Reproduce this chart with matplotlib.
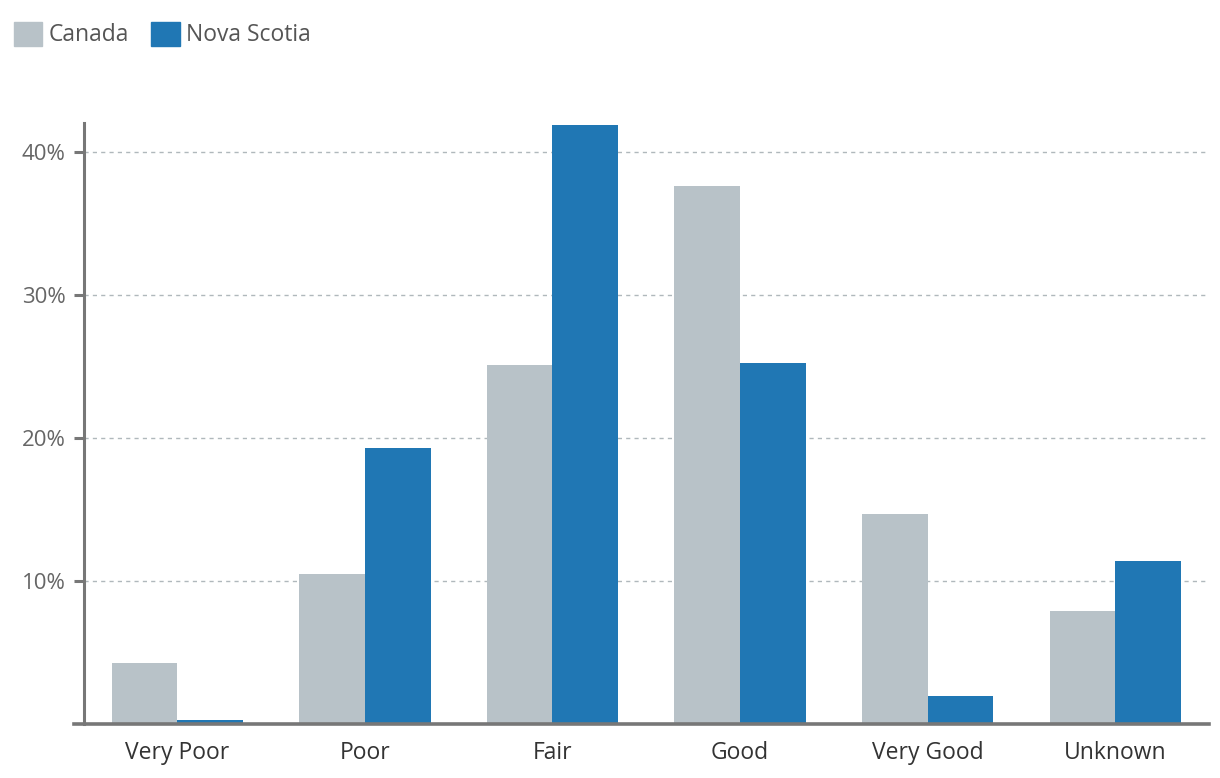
import matplotlib

matplotlib.use("Agg")
import matplotlib.pyplot as plt
import numpy as np
from matplotlib.patches import Patch

plt.rcParams["font.family"] = ["Open Sans", "DejaVu Sans"]

categories = ["Very Poor", "Poor", "Fair", "Good", "Very Good", "Unknown"]
canada = [4.25, 10.5, 25.1, 37.6, 14.7, 7.9]
nova_scotia = [0.3, 19.3, 41.85, 25.2, 1.95, 11.4]
y_ticks = [10, 20, 30, 40]

CANADA_COLOR = "#b8c2c8"
NS_COLOR = "#2077b4"
AXIS_COLOR = "#777777"

fig = plt.figure(figsize=(12.2, 7.78), dpi=100)
ax = fig.add_axes([83.5 / 1220, 1 - 724 / 778, (1209 - 83.5) / 1220, (724 - 123) / 778])

x = np.arange(len(categories))
w = 0.35
ax.bar(x - w / 2, canada, width=w, color=CANADA_COLOR, zorder=2, linewidth=0)
ax.bar(x + w / 2, nova_scotia, width=w, color=NS_COLOR, zorder=2, linewidth=0)

ax.set_xlim(-0.5, 5.5)
ax.set_ylim(0, 42)
ax.set_xticks(x)
ax.set_xticklabels(categories, fontsize=16.5, color="#333333")
ax.set_yticks(y_ticks)
ax.set_yticklabels([f"{t}%" for t in y_ticks], fontsize=16, color="#666666")
ax.tick_params(axis="x", length=0, pad=12)
ax.tick_params(axis="y", length=7, width=2.2, color=AXIS_COLOR, pad=6)

ax.grid(axis="y", linestyle=(0, (3, 3)), color="#b0b8bc", linewidth=1, zorder=0)
for s in ["top", "right", "bottom"]:
    ax.spines[s].set_visible(False)
ax.spines["left"].set_color(AXIS_COLOR)
ax.spines["left"].set_linewidth(2.2)
ax.axhline(0, xmin=-10 / 1126, xmax=1, color=AXIS_COLOR, linewidth=2.6,
           clip_on=False, zorder=3)

handles = [Patch(color=CANADA_COLOR, label="Canada"),
           Patch(color=NS_COLOR, label="Nova Scotia")]
leg = fig.legend(handles=handles, loc="upper left", bbox_to_anchor=(0.0, 0.99),
                 ncol=2, frameon=False, fontsize=16.5, handlelength=1.25,
                 handleheight=1.25, handletextpad=0.25, columnspacing=1.0,
                 borderaxespad=0.2)
for t in leg.get_texts():
    t.set_color("#555555")

fig.savefig("out.png", dpi=100)
